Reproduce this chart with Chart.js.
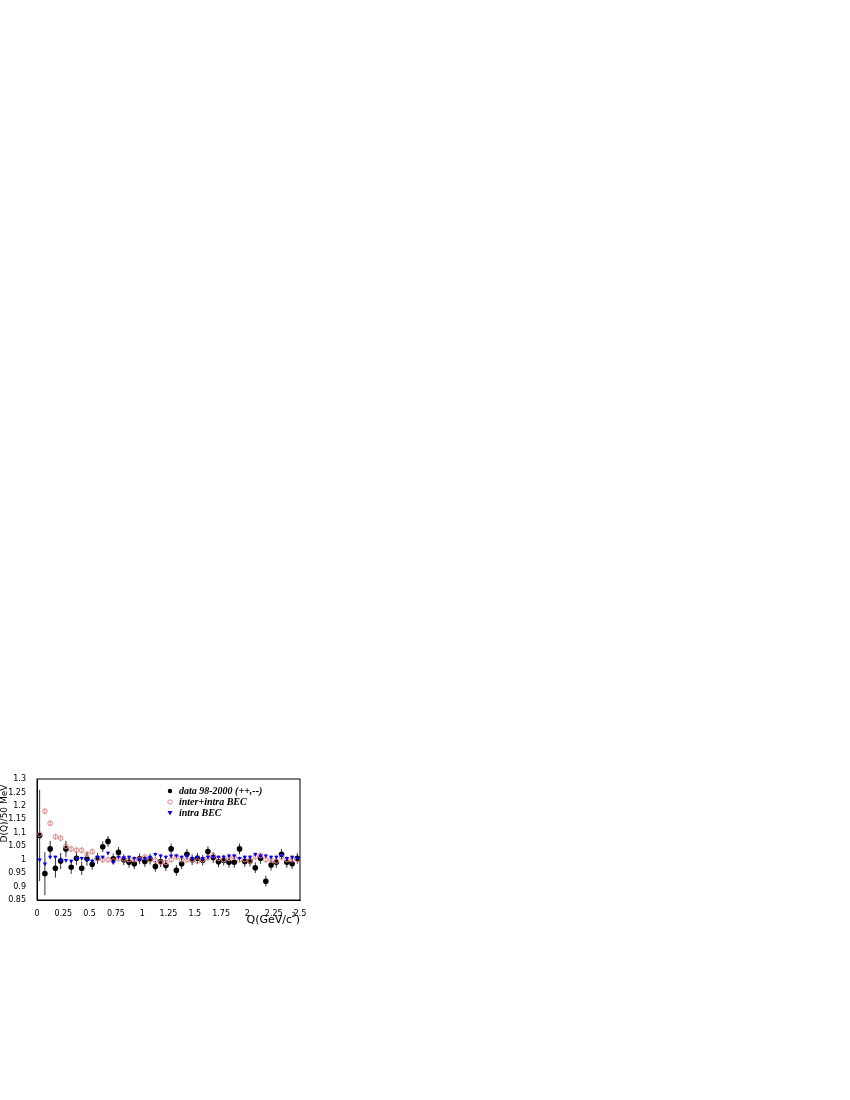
<!DOCTYPE html>
<html><head><script src="https://cdn.jsdelivr.net/npm/chart.js@4"></script>
<style>body{margin:0;background:#fff}#w{position:absolute;left:0;top:770px;width:310px;height:160px}</style></head>
<body><div id="w"><canvas id="c" width="310" height="160"></canvas></div>
<script>
const qBins=[];for(let i=0;i<50;i++)qBins.push(0.025+0.05*i);
const xTicks=[0,0.25,0.5,0.75,1,1.25,1.5,1.75,2,2.25,2.5];
const yTicks=[0.85,0.9,0.95,1,1.05,1.1,1.15,1.2,1.25,1.3];
const dataVals=[1.09,0.948,1.04,0.968,0.995,1.04,0.972,1.005,0.968,1.003,0.983,1.005,1.048,1.068,1.003,1.027,1.0,0.99,0.985,1.003,0.993,1.002,0.975,0.993,0.978,1.04,0.96,0.985,1.02,1.0,1.005,0.998,1.03,1.008,0.992,0.998,0.99,0.99,1.04,0.993,0.995,0.97,1.005,0.92,0.98,0.99,1.02,0.99,0.985,1.005];
const dataErr=[0.17,0.08,0.03,0.035,0.03,0.03,0.025,0.025,0.025,0.025,0.02,0.02,0.02,0.02,0.02,0.02,0.02,0.02,0.02,0.02,0.02,0.02,0.02,0.02,0.02,0.02,0.02,0.02,0.02,0.02,0.02,0.02,0.02,0.02,0.02,0.02,0.02,0.02,0.02,0.02,0.02,0.02,0.02,0.02,0.02,0.02,0.02,0.02,0.02,0.02];
const interVals=[1.095,1.18,1.135,1.085,1.08,1.05,1.04,1.035,1.035,1.02,1.03,1.005,1.0,1.0,0.995,1.005,1.003,1.0,1.0,1.0,1.01,1.0,0.998,0.99,0.99,1.0,1.01,1.0,1.0,1.0,0.995,1.0,1.008,1.015,1.005,1.0,1.005,1.01,1.0,1.0,0.995,1.01,1.015,1.0,1.0,0.995,1.01,1.0,1.0,1.0];
const intraVals=[1.0,0.985,1.01,1.01,1.0,0.998,0.995,1.005,1.005,1.0,0.995,1.01,1.01,1.025,0.99,1.01,1.008,1.01,1.005,1.0,1.005,1.01,1.02,1.015,1.01,1.015,1.015,1.01,1.015,1.005,1.01,1.005,1.01,1.01,1.01,1.01,1.015,1.015,1.005,1.01,1.01,1.02,1.015,1.015,1.01,1.01,1.015,1.005,1.01,1.005];
const legendLabels=['data 98-2000 (++,--)','inter+intra BEC','intra BEC'];
const pts=v=>v.map((y,i)=>({x:qBins[i],y}));
const fmt=v=>String(+v.toFixed(2));
const errPlugin={id:'err',beforeDatasetsDraw(ch){const c=ch.ctx,xs=ch.scales.x,ys=ch.scales.y;c.save();c.strokeStyle='#aaa';c.lineWidth=1;
 [[interVals,0.012],[intraVals,0.008]].forEach(([v,e])=>v.forEach((y,i)=>{const px=xs.getPixelForValue(qBins[i]);c.beginPath();c.moveTo(px,ys.getPixelForValue(y-e));c.lineTo(px,ys.getPixelForValue(y+e));c.stroke();}));
 c.strokeStyle='#333';dataVals.forEach((y,i)=>{const px=xs.getPixelForValue(qBins[i]);c.beginPath();c.moveTo(px,ys.getPixelForValue(Math.max(0.85,y-dataErr[i])));c.lineTo(px,ys.getPixelForValue(Math.min(1.3,y+dataErr[i])));c.stroke();});c.restore();},
 afterDraw(ch){const c=ch.ctx;c.save();c.font='italic bold 10px "Liberation Serif"';c.textBaseline='middle';
 const L=ch.chartArea.left,T=ch.chartArea.top;const x0=L+133;
 [['#000','circle'],['#f08080','ring'],['#0000ff','tri']].forEach((m,i)=>{const y=T+12+i*11;c.fillStyle=m[0];c.strokeStyle=m[0];
  if(m[1]=='circle'){c.beginPath();c.arc(x0,y,2.2,0,7);c.fill();}else if(m[1]=='ring'){c.beginPath();c.arc(x0,y,2.2,0,7);c.stroke();}else{c.beginPath();c.moveTo(x0-2.5,y-2);c.lineTo(x0+2.5,y-2);c.lineTo(x0,y+2.5);c.fill();}
  c.fillStyle='#000';c.fillText(legendLabels[i],x0+9,y);});
 c.font='11px "DejaVu Sans"';c.textAlign='right';c.textBaseline='alphabetic';c.fillText('Q(GeV/c',ch.chartArea.right-8,153);c.font='7px "DejaVu Sans"';c.fillText('2',ch.chartArea.right-4,147);c.font='11px "DejaVu Sans"';c.fillText(')',ch.chartArea.right,153);
 c.translate(7,(ch.chartArea.top+ch.chartArea.bottom)/2-26);c.rotate(-Math.PI/2);c.textAlign='center';c.font='9px "DejaVu Sans"';c.fillText('D(Q)/50 MeV',0,0);c.restore();}};
new Chart(document.getElementById('c'),{type:'scatter',
 data:{datasets:[
  {data:pts(intraVals),pointStyle:'triangle',rotation:180,radius:2.5,backgroundColor:'#0000ff',borderColor:'#0000ff',borderWidth:0},
  {data:pts(interVals),pointStyle:'circle',radius:2.3,backgroundColor:'rgba(0,0,0,0)',borderColor:'#f08080',borderWidth:1},
  {data:pts(dataVals),pointStyle:'circle',radius:2.8,backgroundColor:'#000',borderColor:'#000',borderWidth:0}]},
 options:{responsive:false,animation:false,layout:{padding:{top:9,right:10,left:0,bottom:0}},
  plugins:{legend:{display:false},tooltip:{enabled:false}},
  scales:{x:{type:'linear',min:0,max:2.5,afterFit:a=>{a.height=30},afterBuildTicks:a=>{a.ticks=xTicks.map(v=>({value:v}))},grid:{display:false},border:{color:'#000'},
     ticks:{autoSkip:false,maxRotation:0,callback:fmt,font:{size:8,family:'DejaVu Sans'},color:'#000',padding:1}},
   y:{min:0.85,max:1.3,afterFit:a=>{a.width=37},afterBuildTicks:a=>{a.ticks=yTicks.map(v=>({value:v}))},grid:{display:false},border:{color:'#000'},
     ticks:{autoSkip:false,callback:fmt,font:{size:8,family:'DejaVu Sans'},color:'#000',padding:3}}}},
 plugins:[errPlugin,{id:'box',afterDraw(ch){const c=ch.ctx,a=ch.chartArea;c.save();c.strokeStyle='#000';c.lineWidth=1;c.strokeRect(a.left,a.top,a.right-a.left,a.bottom-a.top);c.restore();}}]});
</script></body></html>
